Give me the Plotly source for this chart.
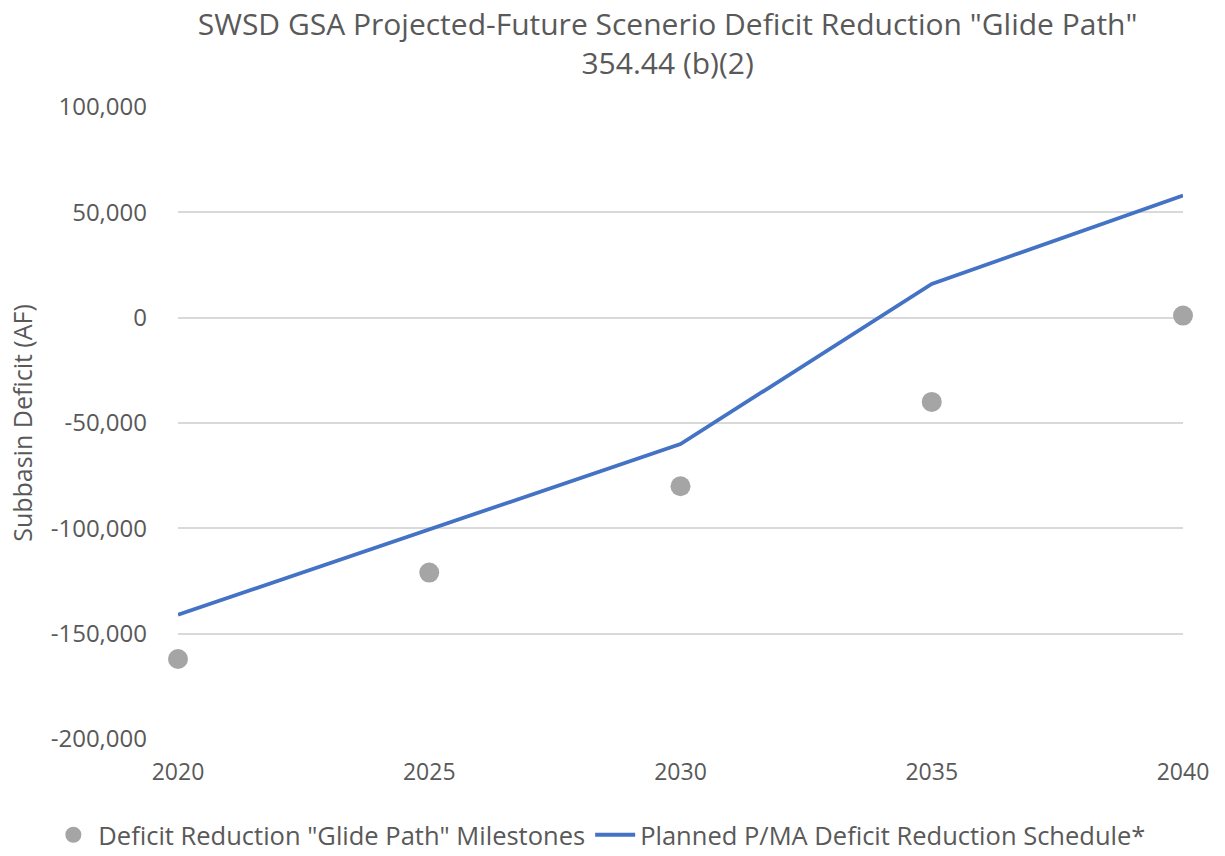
import plotly.graph_objects as go

# Milestone years and deficit values (acre-feet)
years = [2020, 2025, 2030, 2035, 2040]
glide_path_milestones = [-162000, -121000, -80000, -40000, 1000]
planned_schedule = [-141000, -100500, -60000, 16000, 58000]

y_ticks = [-200000, -150000, -100000, -50000, 0, 50000, 100000]
y_tick_labels = ["-200,000", "-150,000", "-100,000", "-50,000", "0", "50,000", "100,000"]
x_ticks = [2020, 2025, 2030, 2035, 2040]

FONT = "Open Sans"
TEXT_GRAY = "#595959"

fig = go.Figure()

fig.add_trace(go.Scatter(
    x=years, y=glide_path_milestones,
    mode="markers",
    name='Deficit Reduction "Glide Path" Milestones',
    marker=dict(color="#A5A5A5", size=20),
    cliponaxis=False,
))

fig.add_trace(go.Scatter(
    x=years, y=planned_schedule,
    mode="lines",
    name="Planned P/MA Deficit Reduction Schedule*",
    line=dict(color="#4472C4", width=3.8),
    cliponaxis=False,
))

fig.update_layout(
    width=1225, height=856,
    paper_bgcolor="white", plot_bgcolor="white",
    margin=dict(l=178, r=42, t=107, b=117, autoexpand=False),
    title=dict(
        text='SWSD GSA Projected-Future Scenerio Deficit Reduction "Glide Path"<br>354.44 (b)(2)',
        x=0.545, xanchor="center", y=0.959, yanchor="top",
        font=dict(family=FONT, size=30, color=TEXT_GRAY),
    ),
    font=dict(family=FONT, color=TEXT_GRAY),
    legend=dict(
        orientation="h", xref="paper", x=-0.129, xanchor="left",
        y=-0.115, yanchor="top",
        font=dict(family=FONT, size=25.5, color=TEXT_GRAY),
        itemwidth=40, tracegroupgap=0,
    ),
    showlegend=True,
)

fig.update_xaxes(
    range=[2020, 2040],
    tickvals=x_ticks,
    showgrid=False, zeroline=False, showline=False,
    tickfont=dict(family=FONT, size=23, color=TEXT_GRAY),
    ticks="", ticklabelstandoff=17,
)

fig.update_yaxes(
    range=[-200000, 100000],
    tickvals=y_ticks,
    ticktext=y_tick_labels,
    showgrid=True, gridcolor="#D9D9D9", gridwidth=1.5,
    zeroline=False, showline=False,
    tickfont=dict(family=FONT, size=24, color=TEXT_GRAY),
    ticks="", ticklabelstandoff=30,
    title=dict(text="Subbasin Deficit (AF)", font=dict(family=FONT, size=25, color=TEXT_GRAY), standoff=10),
)

fig.write_html("out.html")
